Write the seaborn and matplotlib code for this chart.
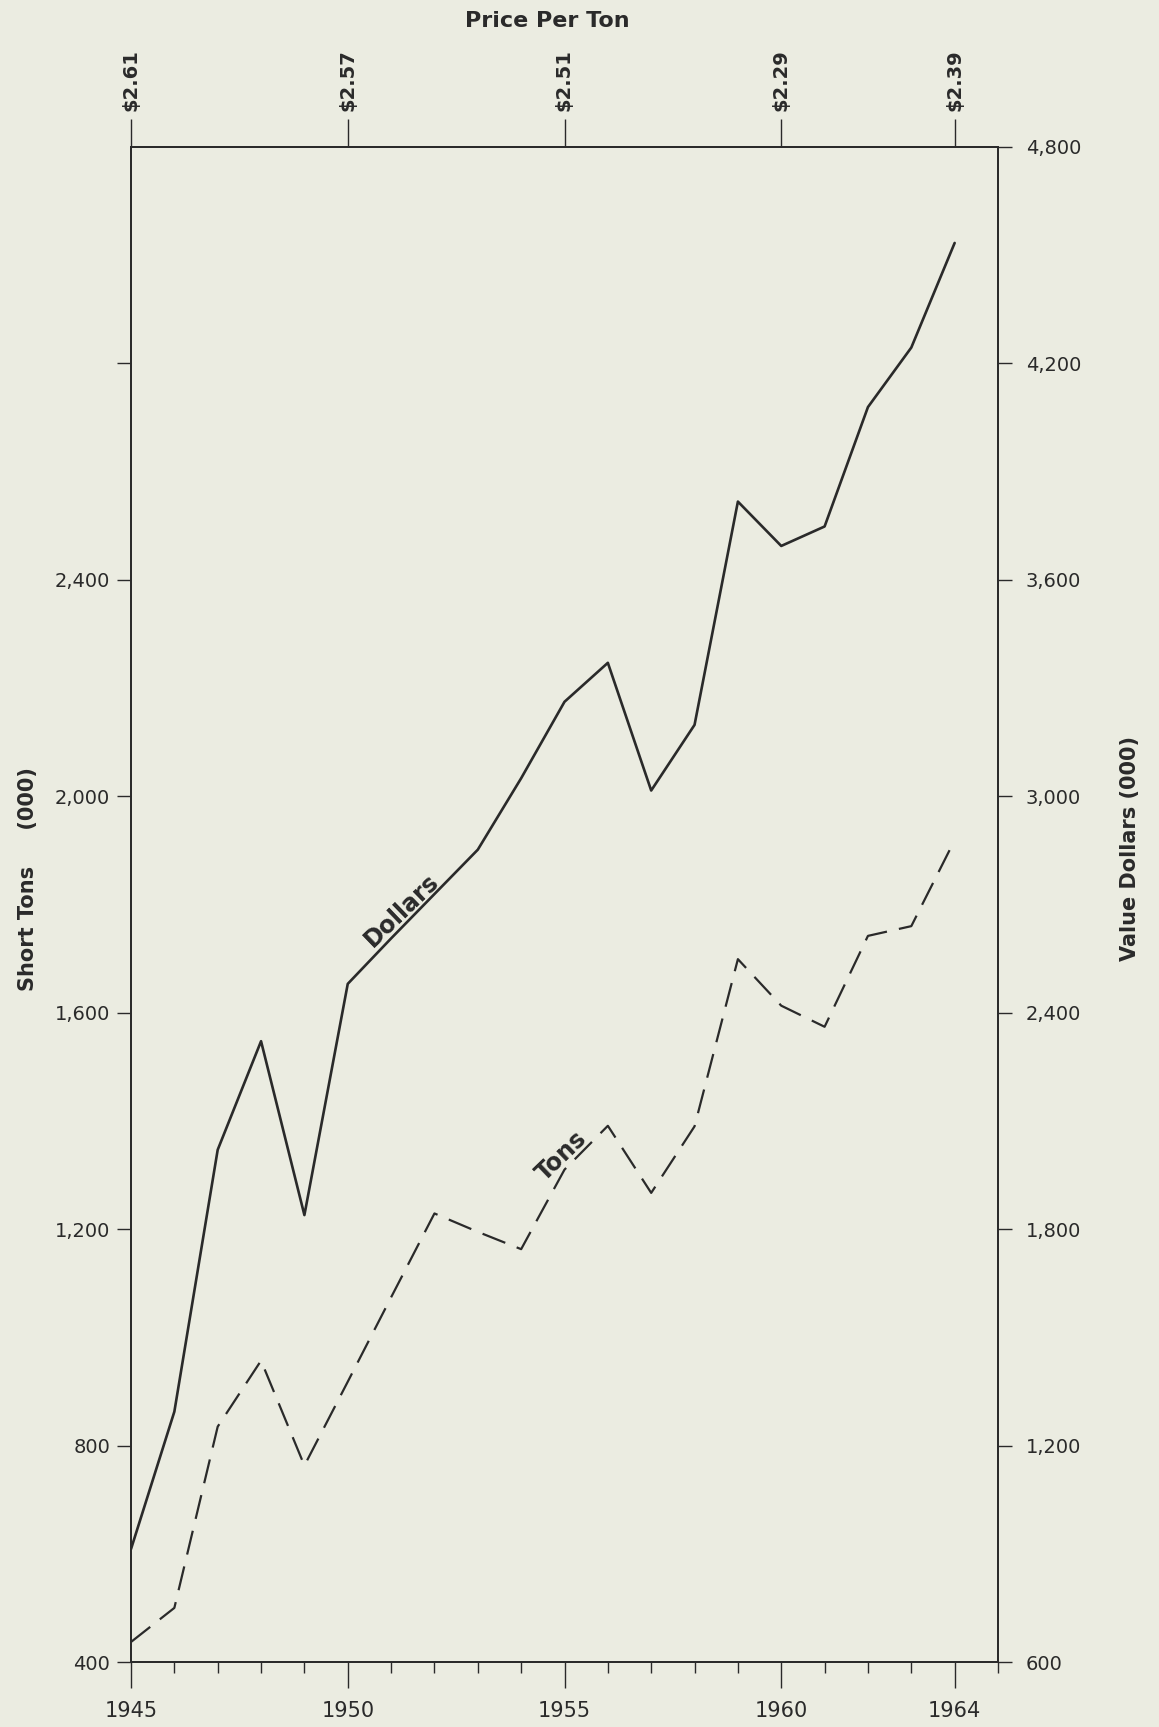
import numpy as np
import pandas as pd
import matplotlib
matplotlib.use("Agg")
import matplotlib.pyplot as plt
import seaborn as sns

# data
years = list(range(1945, 1965))
tons = [437, 500, 835, 957, 763, 918, 1074, 1229, 1195, 1163,
        1310, 1391, 1267, 1390, 1699, 1613, 1574, 1742, 1760, 1919]
dollars = [913, 1294, 2020, 2321, 1839, 2480, 2606, 2729, 2852, 3050,
           3262, 3370, 3016, 3198, 3817, 3694, 3748, 4079, 4244, 4534]

price_years = [1945, 1950, 1955, 1960, 1964]
price_labels = ["$2.61", "$2.57", "$2.51", "$2.29", "$2.39"]

year_labels = ["1945", "1950", "1955", "1960", "1964"]
tons_ticks = [400, 800, 1200, 1600, 2000, 2400, 2800]
dollar_ticks = [600, 1200, 1800, 2400, 3000, 3600, 4200, 4800]

df = pd.DataFrame({"year": years, "tons": tons, "dollars": dollars})

sns.set_theme(style="ticks")
plt.rcParams["font.family"] = ["DejaVu Sans"]

bg = "#ebece1"
ink = "#2a2a2a"

fig = plt.figure(figsize=(11.59, 17.27), dpi=100, facecolor=bg)
ax = fig.add_axes([131 / 1159, 65 / 1727, (998 - 131) / 1159, (1662 - 147) / 1727])
ax.set_facecolor(bg)

sns.lineplot(data=df, x="year", y="tons", ax=ax, color=ink, linewidth=1.6)
ax.lines[0].set_dashes((11, 5.5))

ax2 = ax.twinx()
sns.lineplot(data=df, x="year", y="dollars", ax=ax2, color=ink, linewidth=1.9)

# axis ranges
ax.set_xlim(1945, 1965)
ax.set_ylim(400, 3200)
ax2.set_ylim(600, 4800)

for sp in list(ax.spines.values()) + list(ax2.spines.values()):
    sp.set_color(ink)
    sp.set_linewidth(1.3)

# bottom axis
ax.set_xticks(price_years, labels=year_labels)
ax.set_xticks(years + [1965], minor=True)
ax.tick_params(axis="x", which="major", length=19, width=1.0, pad=9,
               labelsize=15, colors=ink)
ax.tick_params(axis="x", which="minor", length=8, width=1.0, colors=ink)

# left axis
ax.set_yticks(tons_ticks,
              labels=[f"{v:,}" if v <= 2400 else "" for v in tons_ticks])
ax.tick_params(axis="y", length=10, width=1.0, pad=5, labelsize=14,
               colors=ink)

# right axis
ax2.set_yticks(dollar_ticks, labels=[f"{v:,}" for v in dollar_ticks])
ax2.tick_params(axis="y", length=10, width=1.0, pad=10, labelsize=14,
                colors=ink)

ax.set_xlabel("")
ax.set_ylabel("Short Tons     (000)", fontsize=15, fontweight="bold",
              color=ink, va="center")
ax.yaxis.set_label_coords(-0.119, 0.517)
ax2.set_ylabel("Value Dollars (000)", fontsize=15, fontweight="bold",
               color=ink, rotation=90, va="center")
ax2.yaxis.set_label_coords(1.152, 0.537)

# price per ton on top
top = ax.secondary_xaxis("top")
top.set_xticks(price_years, labels=price_labels)
top.tick_params(length=20, width=1.0, pad=6, labelsize=14, colors=ink,
                labelrotation=90)
for t in top.get_xticklabels():
    t.set_fontweight("bold")
top.spines["top"].set_visible(False)

fig.text(0.472, 0.988, "Price Per Ton", ha="center", va="center",
         fontsize=16, fontweight="bold", color=ink)

# inline labels
ax.text(1951.24, 1790, "Dollars", rotation=44, ha="center", va="center",
        fontsize=17, fontweight="bold", color=ink, rotation_mode="anchor")
ax.text(1954.94, 1335, "Tons", rotation=44, ha="center", va="center",
        fontsize=17, fontweight="bold", color=ink, rotation_mode="anchor")

fig.savefig("out.png", dpi=100, facecolor=bg)
